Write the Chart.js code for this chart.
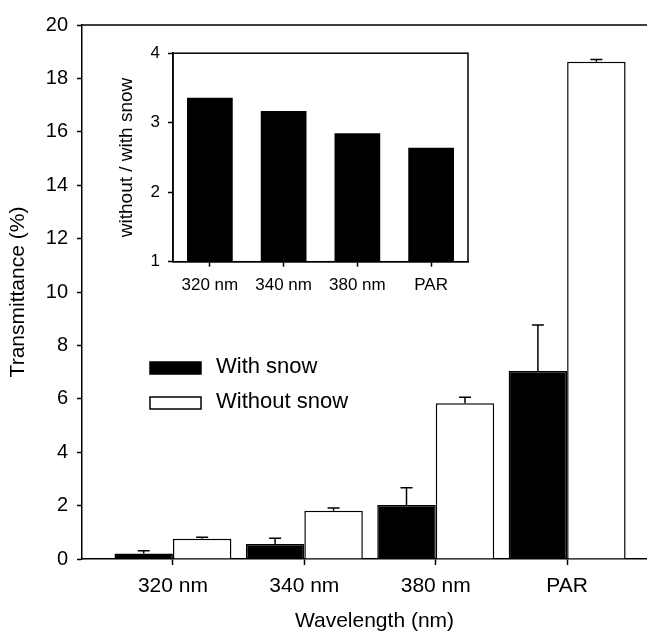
<!DOCTYPE html>
<html>
<head>
<meta charset="utf-8">
<script src="https://cdn.jsdelivr.net/npm/chart.js@4.4.1/dist/chart.umd.min.js"></script>
<style>
  html, body { margin: 0; padding: 0; background: #fff; overflow: hidden; }
  #wrap { position: relative; width: 647px; height: 632px; overflow: hidden; }
  #main { position: absolute; left: 0; top: 0; }
  #inset { position: absolute; left: 100px; top: 35px; }
</style>
</head>
<body>
<div id="wrap">
  <canvas id="main" width="667" height="632"></canvas>
  <canvas id="inset" width="372" height="265"></canvas>
</div>
<script>
const categories = ["320 nm", "340 nm", "380 nm", "PAR"];
const withSnow = [0.21, 0.56, 2.02, 7.04];
const withSnowErr = [0.10, 0.22, 0.65, 1.72];
const withoutSnow = [0.76, 1.81, 5.83, 18.62];
const withoutSnowErr = [0.05, 0.10, 0.23, 0.09];
const ratio = [3.36, 3.17, 2.85, 2.64];

const FONT = '"Liberation Sans", Arial, Helvetica, sans-serif';
const positions = categories.map((c, i) => i + 1);

// error bars (upper half only)
const errorBars = {
  id: "errorBars",
  afterDatasetsDraw(chart) {
    const ctx = chart.ctx;
    const y = chart.scales.y;
    chart.data.datasets.forEach((ds, di) => {
      if (!ds.errors) return;
      chart.getDatasetMeta(di).data.forEach((bar, i) => {
        const top = y.getPixelForValue(ds.data[i].y + ds.errors[i]);
        ctx.save();
        ctx.strokeStyle = "#000";
        ctx.lineWidth = 1.5;
        ctx.beginPath();
        ctx.moveTo(bar.x, bar.y);
        ctx.lineTo(bar.x, top);
        ctx.moveTo(bar.x - 6, top);
        ctx.lineTo(bar.x + 6, top);
        ctx.stroke();
        ctx.restore();
      });
    });
  }
};

const topLine = {
  id: "topLine",
  afterDraw(chart) {
    const { ctx, chartArea: a } = chart;
    ctx.save();
    ctx.strokeStyle = "#000";
    ctx.lineWidth = 1.5;
    ctx.beginPath();
    ctx.moveTo(a.left, a.top);
    ctx.lineTo(a.right, a.top);
    ctx.stroke();
    ctx.restore();
  }
};

const boxFrame = {
  id: "boxFrame",
  afterDraw(chart) {
    const { ctx, chartArea: a } = chart;
    ctx.save();
    ctx.strokeStyle = "#000";
    ctx.lineWidth = 1.5;
    ctx.strokeRect(a.left, a.top, a.right - a.left, a.bottom - a.top);
    ctx.restore();
  }
};

// legend inside the plot
const innerLegend = {
  id: "innerLegend",
  afterDraw(chart) {
    const { ctx, chartArea: a } = chart;
    ctx.save();
    ctx.font = "22px " + FONT;
    ctx.textBaseline = "alphabetic";
    chart.data.datasets.forEach((ds, i) => {
      const bx = a.left + 68;
      const by = a.top + 337 + i * 35;
      ctx.fillStyle = ds.backgroundColor;
      ctx.fillRect(bx, by, 51, 12);
      ctx.strokeStyle = "#000";
      ctx.lineWidth = 1.5;
      ctx.strokeRect(bx, by, 51, 12);
      ctx.fillStyle = "#000";
      ctx.fillText(ds.label, bx + 66, by + 10.5);
    });
    ctx.restore();
  }
};

new Chart(document.getElementById("main"), {
  type: "bar",
  data: {
    datasets: [
      {
        label: "With snow",
        data: positions.map((x, i) => ({ x, y: withSnow[i] })),
        errors: withSnowErr,
        backgroundColor: "#000",
        borderColor: "#000",
        borderWidth: 1.5,
        categoryPercentage: 0.89,
        barPercentage: 1
      },
      {
        label: "Without snow",
        data: positions.map((x, i) => ({ x, y: withoutSnow[i] })),
        errors: withoutSnowErr,
        backgroundColor: "#fff",
        borderColor: "#000",
        borderWidth: 1.5,
        categoryPercentage: 0.89,
        barPercentage: 1
      }
    ]
  },
  options: {
    responsive: false,
    animation: false,
    layout: { padding: { top: 25, left: 0, right: 0, bottom: 0 } },
    plugins: { legend: { display: false }, tooltip: { enabled: false } },
    scales: {
      x: {
        type: "linear",
        min: 0.308,
        max: 4.76,
        offset: false,
        afterBuildTicks: s => { s.ticks = positions.map(v => ({ value: v })); },
        afterFit: s => { s.height = 73; },
        ticks: {
          callback: v => categories[v - 1],
          font: { family: FONT, size: 21 },
          color: "#000",
          padding: 9,
          autoSkip: false,
          maxRotation: 0
        },
        grid: { offset: false, drawOnChartArea: false, tickLength: 6, tickColor: "#000", tickWidth: 1.5 },
        border: { color: "#000", width: 1.5 },
        title: {
          display: true,
          text: "Wavelength (nm)",
          font: { family: FONT, size: 21, lineHeight: 1 },
          color: "#000",
          padding: { top: -2, bottom: 0 }
        }
      },
      y: {
        min: 0,
        max: 20,
        afterFit: s => { s.width = 82; },
        ticks: { stepSize: 2, font: { family: FONT, size: 20 }, color: "#000", padding: 9 },
        grid: { drawOnChartArea: false, tickLength: 5, tickColor: "#000", tickWidth: 1.5 },
        border: { color: "#000", width: 1.5 },
        title: {
          display: true,
          text: "Transmittance (%)",
          font: { family: FONT, size: 21 },
          color: "#000",
          padding: { top: 6, bottom: 0 }
        }
      }
    }
  },
  plugins: [errorBars, topLine, innerLegend]
});

new Chart(document.getElementById("inset"), {
  type: "bar",
  data: {
    labels: categories,
    datasets: [{
      data: ratio,
      backgroundColor: "#000",
      borderWidth: 0,
      categoryPercentage: 1,
      barPercentage: 0.62
    }]
  },
  options: {
    responsive: false,
    animation: false,
    layout: { padding: { top: 16, left: 0, right: 4, bottom: 0 } },
    plugins: { legend: { display: false }, tooltip: { enabled: false } },
    scales: {
      x: {
        offset: true,
        afterFit: s => { s.height = 38.3; },
        ticks: { font: { family: FONT, size: 17 }, color: "#000", padding: 8, maxRotation: 0, autoSkip: false },
        grid: { offset: false, drawOnChartArea: false, tickLength: 5, tickColor: "#000", tickWidth: 1.5 },
        border: { color: "#000", width: 1.5 }
      },
      y: {
        min: 1,
        max: 4,
        afterFit: s => { s.width = 73; },
        ticks: { stepSize: 1, font: { family: FONT, size: 17 }, color: "#000", padding: 8 },
        grid: { drawOnChartArea: false, tickLength: 5, tickColor: "#000", tickWidth: 1.5 },
        border: { color: "#000", width: 1.5 },
        title: {
          display: true,
          text: "without / with snow",
          font: { family: FONT, size: 19 },
          color: "#000",
          padding: { top: 15, bottom: 0 }
        }
      }
    }
  },
  plugins: [boxFrame]
});
</script>
</body>
</html>
